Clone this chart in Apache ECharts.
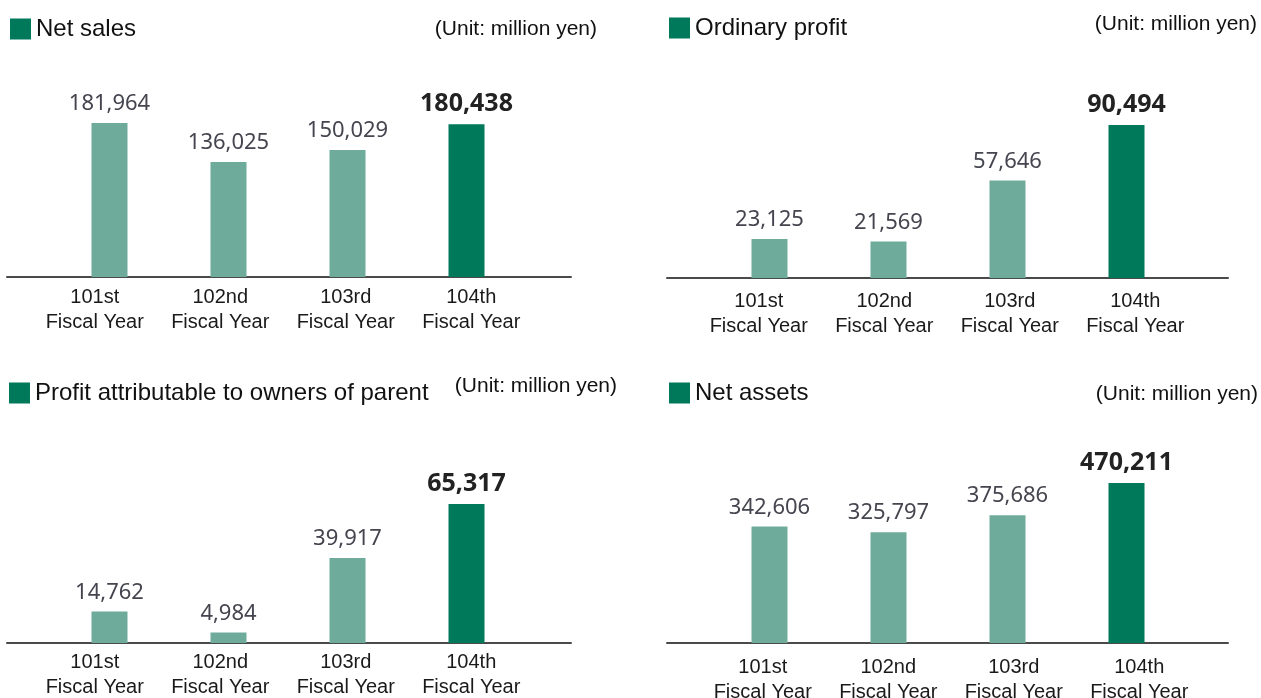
<!DOCTYPE html>
<html>
<head>
<meta charset="utf-8">
<script src="https://cdn.jsdelivr.net/npm/echarts@6/dist/echarts.min.js"></script>
<style>
  html, body { margin: 0; padding: 0; background: #fff; }
  #chart { width: 1261px; height: 698px; }
</style>
</head>
<body>
<div id="chart"></div>
<script>
// data
const categories = ['101st\nFiscal Year', '102nd\nFiscal Year', '103rd\nFiscal Year', '104th\nFiscal Year']
const netSales = [181964, 136025, 150029, 180438]
const ordinaryProfit = [23125, 21569, 57646, 90494]
const profitOwners = [14762, 4984, 39917, 65317]
const netAssets = [342606, 325797, 375686, 470211]
const panelTitles = ['Net sales', 'Ordinary profit', 'Profit attributable to owners of parent', 'Net assets']
const unitText = '(Unit: million yen)'

const LIGHT = '#6fab9a'
const DARK = '#00785a'
const SANS = 'Liberation Sans, Arial, sans-serif'
const NUM = 'Noto Sans, Open Sans, sans-serif'

// layout of each panel (bars, axis line and labels sit on separate grids)
const panels = [
  { values: netSales, barLeft: 50, top: 123, axisY: 277, lineLeft: 7, lineWidth: 564, labelLeft: 32, legend: [10, 17], unit: [664, 19], margin: 8 },
  { values: ordinaryProfit, barLeft: 710, top: 125, axisY: 278, lineLeft: 667, lineWidth: 561, labelLeft: 696, legend: [669, 16], unit: [4, 14], margin: 11 },
  { values: profitOwners, barLeft: 50, top: 504, axisY: 643, lineLeft: 7, lineWidth: 564, labelLeft: 32, legend: [9, 381], unit: [644, 376], margin: 7 },
  { values: netAssets, barLeft: 710, top: 483, axisY: 643, lineLeft: 667, lineWidth: 561, labelLeft: 700, legend: [669, 381], unit: [3, 384], margin: 12 }
]

const fmt = v => v.toLocaleString('en-US')

const grid = []
const xAxis = []
const yAxis = []
const series = []
const legend = []
const title = []

panels.forEach((p, i) => {
  const h = p.axisY - p.top
  const g = i * 3
  grid.push({ left: p.barLeft, width: 476, top: p.top, height: h, outerBoundsMode: 'none' })
  grid.push({ left: p.lineLeft, width: p.lineWidth, top: p.top, height: h, outerBoundsMode: 'none' })
  grid.push({ left: p.labelLeft, width: 502, top: p.top, height: h, outerBoundsMode: 'none' })

  // bar axis
  xAxis.push({
    type: 'category',
    gridIndex: g,
    data: categories,
    axisLine: { show: false },
    axisTick: { show: false },
    axisLabel: { show: false }
  })
  // baseline
  xAxis.push({
    type: 'value',
    gridIndex: g + 1,
    min: 0,
    max: 1,
    axisLine: { show: true, lineStyle: { color: '#4a4a4a', width: 2 } },
    axisTick: { show: false },
    axisLabel: { show: false },
    splitLine: { show: false }
  })
  // category labels
  xAxis.push({
    type: 'category',
    gridIndex: g + 2,
    data: categories,
    axisLine: { show: false },
    axisTick: { show: false },
    axisLabel: {
      interval: 0,
      margin: p.margin,
      fontFamily: SANS,
      fontSize: 20,
      lineHeight: 25,
      color: '#1a1a1a'
    }
  })
  yAxis.push({ type: 'value', gridIndex: g, min: 0, max: 'dataMax', show: false })
  yAxis.push({ type: 'value', gridIndex: g + 1, min: 0, max: 1, show: false })
  yAxis.push({ type: 'value', gridIndex: g + 2, min: 0, max: 1, show: false })

  series.push({
    name: panelTitles[i],
    type: 'bar',
    xAxisIndex: g,
    yAxisIndex: g,
    barWidth: 36,
    itemStyle: { color: DARK },
    label: {
      show: true,
      position: 'top',
      distance: 7,
      formatter: params => fmt(params.value),
      fontFamily: NUM,
      fontSize: 22,
      lineHeight: 24,
      color: '#45454f'
    },
    data: p.values.map((v, j) => j === p.values.length - 1
      ? { value: v, itemStyle: { color: DARK }, label: { fontSize: 25, fontWeight: 'bold', color: '#222', distance: 8 } }
      : { value: v, itemStyle: { color: LIGHT } })
  })

  legend.push({
    data: [panelTitles[i]],
    left: p.legend[0],
    top: p.legend[1],
    padding: 0,
    icon: 'rect',
    itemWidth: 21,
    itemHeight: 21,
    selectedMode: false,
    textStyle: { fontFamily: SANS, fontSize: 24, color: '#111' }
  })

  title.push({
    text: unitText,
    right: p.unit[0],
    top: p.unit[1],
    padding: 0,
    textStyle: { fontFamily: SANS, fontSize: 21, fontWeight: 'normal', color: '#111' }
  })
})

const chart = echarts.init(document.getElementById('chart'))
chart.setOption({
  animation: false,
  backgroundColor: '#fff',
  title,
  legend,
  grid,
  xAxis,
  yAxis,
  series
})
</script>
</body>
</html>
